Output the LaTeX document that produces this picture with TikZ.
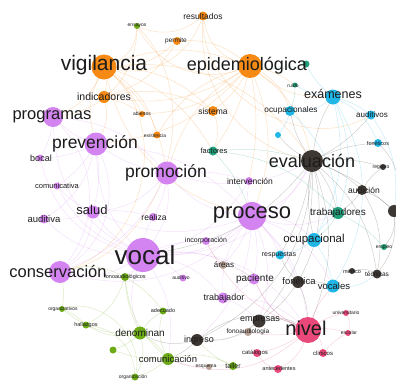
\documentclass[tikz,border=0pt]{standalone}
\usepackage{fontspec}
\setmainfont{Liberation Sans}
\pgfdeclarelayer{bg}\pgfdeclarelayer{fg}\pgfsetlayers{bg,main,fg}
\definecolor{cO}{RGB}{246,138,20}
\definecolor{cP}{RGB}{212,132,240}
\definecolor{cD}{RGB}{62,56,52}
\definecolor{cT}{RGB}{32,160,122}
\definecolor{cC}{RGB}{32,182,230}
\definecolor{cG}{RGB}{108,170,22}
\definecolor{cK}{RGB}{234,72,122}
\definecolor{cB}{RGB}{184,162,150}
\definecolor{txt}{RGB}{28,28,28}
\tikzset{
 dot/.style={circle,inner sep=0pt,draw=none},
 lbl/.style={inner sep=0pt,anchor=center,text=txt},
 ed/.style={line width=0.45pt,draw opacity=0.26}
}
\newcommand\nd[9]{%
 \node[dot,minimum size=#4pt,fill=#5] (#1) at (#2,#3) {};%
 \begin{pgfonlayer}{fg}\node[lbl] (#1-t) at (#8,#9) {\fontsize{#7}{#7}\selectfont #6};\end{pgfonlayer}}
\newcommand\dotonly[5]{\node[dot,minimum size=#4pt,fill=#5] (#1) at (#2,#3) {};}
\begin{document}
\begin{tikzpicture}[x=1pt,y=-1pt]
\useasboundingbox (0,0) rectangle (396,381);
\begin{pgfonlayer}{bg}\fill[white] (0,0) rectangle (396,381);\end{pgfonlayer}
% orange
\nd{vig}{104}{67}{25}{cO}{vigilancia}{21}{104}{65}
\nd{epi}{250}{66}{24}{cO}{epidemiológica}{18}{247}{66}
\nd{res}{203}{16}{9}{cO}{resultados}{8.5}{203}{16}
\nd{per}{177}{41}{8}{cO}{permite}{6.5}{176}{41}
\nd{ind}{104}{97}{12}{cO}{indicadores}{10.5}{104}{97}
\nd{sis}{213}{111}{10}{cO}{sistema}{8.5}{213}{111}
\nd{abi}{142}{114}{6}{cO}{abiertos}{5}{142}{114}
\nd{exi}{157}{135}{7}{cO}{existencia}{5}{155}{136}
\nd{ens}{137}{26}{6}{cG}{ensayos}{5}{137}{26}
% teal
\nd{fac}{213}{151}{9}{cT}{factores}{7.5}{214}{151}
\dotonly{tealA}{306}{64}{7}{cT}
\nd{rui}{295}{85}{5}{cT}{ruido}{5}{293}{86}
\nd{trab}{338}{213}{12}{cT}{trabajadores}{10}{338}{213}
\nd{emp}{384}{247}{6}{cT}{empleo}{5}{384}{247}
% cyan
\nd{exa}{333}{97}{15}{cC}{exámenes}{12.5}{333}{94}
\nd{ocps}{290}{111}{10}{cC}{ocupacionales}{8.3}{291}{110}
\nd{audv}{371}{115}{9}{cC}{auditivos}{8}{372}{115}
\dotonly{cyanA}{278}{135}{6}{cC}
\nd{fonc}{378}{143}{8}{cC}{fonéticos}{5.5}{378}{143}
\nd{ocp}{314}{240}{14}{cC}{ocupacional}{11.5}{314}{240}
\nd{resp}{280}{255}{9}{cC}{respuestas}{7}{279}{255}
\nd{vocs}{333}{286}{13}{cC}{vocales}{9.5}{334}{286}
% dark
\nd{eva}{312}{161}{22}{cD}{evaluación}{18}{312}{161}
\nd{audi}{362}{190}{10}{cD}{audición}{8.5}{364}{190}
\nd{reg}{383}{167}{6}{cD}{registro}{5}{381}{167}
\dotonly{darkR}{394}{211}{12}{cD}
\nd{fone}{298}{282}{12}{cD}{fonética}{9.5}{299}{281}
\nd{empr}{259}{321}{13}{cD}{empresas}{9}{260}{320}
\nd{ing}{197}{340}{12}{cD}{ingreso}{9}{199}{340}
\nd{med}{352}{271}{6}{cD}{médico}{5.5}{352}{271}
\nd{tec}{377}{274}{9}{cD}{técnicas}{6.5}{377}{274}
% taupe
\nd{areas}{223}{265}{8}{cB}{áreas}{8}{224}{265}
\nd{fonog}{248}{332}{8}{cB}{fonoaudiología}{6.5}{248}{332}
\nd{esq}{209}{367}{6}{cB}{esquema}{5}{206}{367}
% pink
\nd{niv}{308}{330}{26}{cK}{nivel}{20}{306}{328}
\nd{uni}{346}{313}{6}{cK}{universitario}{5}{346}{313}
\nd{esc}{348}{333}{6}{cK}{escolar}{5}{349}{333}
\nd{cli}{323}{353}{8}{cK}{clínicos}{6}{323}{353}
\nd{cat}{257}{353}{8}{cK}{catálogos}{6}{255}{353}
\nd{ant}{278}{369}{8}{cK}{antecedentes}{5.5}{279}{369}
% purple
\nd{prog}{53}{117}{20}{cP}{programas}{16.5}{52}{117}
\nd{prev}{96}{144}{23}{cP}{prevención}{17.5}{95}{144}
\nd{prom}{167}{173}{23}{cP}{promoción}{17.5}{166}{173}
\nd{boc}{40}{158}{7}{cP}{bocal}{9}{41}{158}
\nd{comv}{57}{186}{7}{cP}{comunicativa}{7.5}{57}{186}
\nd{audt}{44}{219}{9}{cP}{auditiva}{9.5}{44}{219}
\nd{sal}{93}{212}{13}{cP}{salud}{13}{92}{210}
\nd{real}{153}{217}{8}{cP}{realiza}{8.5}{154}{217}
\nd{inte}{249}{181}{8}{cP}{intervención}{8.5}{250}{181}
\nd{proc}{252}{216}{28}{cP}{proceso}{22}{252}{215}
\nd{vocal}{143}{255}{34}{cP}{vocal}{26}{145}{255}
\nd{inc}{206}{241}{8}{cP}{incorporación}{7}{206}{241}
\nd{cons}{60}{272}{22}{cP}{conservación}{16.5}{58}{271}
\nd{audo}{183}{278}{7}{cP}{auditivo}{5}{181}{278}
\nd{pac}{254}{279}{11}{cP}{paciente}{10}{255}{279}
\nd{trbj}{223}{298}{11}{cP}{trabajador}{9}{224}{298}
% green
\nd{fonl}{125}{277}{8}{cG}{fonoaudiológicos}{5.5}{125}{277}
\nd{org}{62}{309}{6}{cG}{organizativos}{5}{63}{309}
\nd{hal}{86}{325}{7}{cG}{hallazgos}{5.5}{86}{325}
\nd{ade}{163}{311}{7}{cG}{adecuado}{5.5}{163}{311}
\nd{den}{140}{333}{13}{cG}{denominan}{10}{140}{333}
\dotonly{grA}{113}{350}{7}{cG}
\nd{com}{168}{359}{12}{cG}{comunicación}{9.5}{168}{359}
\nd{orgz}{135}{377}{7}{cG}{organización}{5}{133}{377}
\nd{tal}{233}{366}{8}{cG}{taller}{7}{233}{366}
\begin{pgfonlayer}{bg}
\foreach \a/\b/\c/\k in {
 vig/epi/cO/10, vig/res/cO/-20, vig/per/cO/-10, vig/ind/cO/5, vig/sis/cO/10, vig/abi/cO/5, vig/exi/cO/10, vig/prog/cO/10, vig/prev/cO/-10, vig/eva/cO/15, vig/proc/cO/-15, vig/ens/cO/-15, vig/fac/cO/10, vig/prom/cO/10, vig/cons/cO/30,
 epi/res/cO/15, epi/per/cO/-10, epi/sis/cO/5, epi/ind/cO/10, epi/eva/cO/10, epi/exa/cO/-10, epi/ocps/cO/10, epi/fac/cO/5, epi/prom/cO/-10, epi/prev/cO/10, epi/proc/cO/10, epi/ens/cO/20, epi/abi/cO/10, epi/exi/cO/-10, epi/inte/cO/5, epi/rui/cO/5,
 res/eva/cO/-20, res/audv/cO/-30, res/ens/cO/15, per/ind/cO/10, sis/ind/cO/-10, sis/fac/cO/10, ind/prev/cO/10, ind/abi/cO/5, ens/prog/cO/20, ens/cons/cO/30,
 vocal/cons/cP/10, vocal/prom/cP/-10, vocal/prev/cP/10, vocal/prog/cP/15, vocal/sal/cP/5, vocal/proc/cP/-10, vocal/real/cP/5, vocal/inc/cP/5, vocal/pac/cP/10, vocal/trbj/cP/10, vocal/niv/cP/15, vocal/den/cP/-10, vocal/audt/cP/10, vocal/comv/cP/10, vocal/boc/cP/15, vocal/inte/cP/-10, vocal/eva/cP/-15, vocal/audo/cP/5, vocal/fonl/cP/5, vocal/com/cP/10,
 proc/prom/cP/10, proc/inte/cP/5, proc/eva/cP/-10, proc/ocp/cP/10, proc/pac/cP/5, proc/trbj/cP/-10, proc/niv/cP/10, proc/empr/cP/10, proc/inc/cP/5, proc/sal/cP/10, proc/areas/cP/5, proc/resp/cP/5, proc/trab/cP/-10, proc/prev/cP/-10, proc/cons/cP/15, proc/vocs/cP/10, proc/fone/cP/5, proc/ing/cP/10,
 prom/prev/cP/5, prom/sal/cP/10, prom/real/cP/5, prom/prog/cP/-10, prom/cons/cP/10, prom/inte/cP/5, prom/eva/cP/-10,
 prev/prog/cP/5, prev/sal/cP/5, prev/cons/cP/20, prev/boc/cP/5, prev/comv/cP/5, prev/audt/cP/10,
 prog/cons/cP/20, prog/boc/cP/5, sal/audt/cP/5, sal/comv/cP/5, sal/cons/cP/10, sal/real/cP/5, pac/trbj/cP/5, pac/niv/cP/-10, trbj/niv/cP/10, trbj/empr/cP/5,
 eva/exa/cD/5, eva/audi/cD/5, eva/fone/cD/10, eva/trab/cD/5, eva/ocp/cD/-5, eva/reg/cD/5, eva/tec/cD/10, eva/ing/cD/15, eva/empr/cD/10, eva/audv/cD/-5, eva/fonc/cD/5, eva/ocps/cD/5, eva/niv/cD/10, eva/resp/cD/5, eva/darkR/cD/5, eva/vocal/cD/10, eva/cyanA/cD/5,
 audi/darkR/cD/5, audi/reg/cD/5, audi/tec/cD/10, audi/trab/cD/5, fone/vocs/cD/5, fone/niv/cD/5, fone/empr/cD/5, fone/resp/cD/5, ing/empr/cD/-10, ing/den/cD/10, ing/com/cD/5, ing/niv/cD/15, empr/niv/cD/10, med/tec/cD/10, darkR/tec/cD/10, darkR/emp/cD/10, darkR/fonc/cD/-15,
 exa/ocps/cC/10, exa/audv/cC/5, exa/trab/cC/10, exa/rui/cC/5, exa/tealA/cC/5, exa/fonc/cC/10, exa/ocp/cC/10, exa/vocs/cC/15, ocp/resp/cC/5, ocp/vocs/cC/5, ocp/trab/cC/5, ocps/trab/cC/10, audv/darkR/cC/10, vocs/tec/cC/-10, ocps/cyanA/cC/5,
 fac/eva/cT/5, fac/trab/cT/10, fac/proc/cT/5, trab/emp/cT/5, trab/ocp/cT/5, tealA/epi/cT/5, rui/ocps/cT/5,
 den/com/cG/5, den/fonl/cG/5, den/hal/cG/10, den/org/cG/10, den/ade/cG/5, den/grA/cG/5, den/orgz/cG/10, com/orgz/cG/5, com/tal/cG/10, com/grA/cG/5, com/ade/cG/10, com/fonl/cG/10, cons/org/cG/5, cons/fonl/cG/10, org/hal/cG/5, fonl/hal/cG/10, hal/orgz/cG/20, org/orgz/cG/30, fonl/ade/cG/5, tal/ing/cG/5,
 niv/uni/cK/5, niv/esc/cK/5, niv/cli/cK/10, niv/cat/cK/5, niv/ant/cK/10, niv/fonog/cK/5, niv/vocs/cK/5, niv/pac/cK/10, niv/inc/cK/10, uni/esc/cK/10, cli/esc/cK/5, ant/cat/cK/10, niv/com/cK/15,
 fonog/empr/cB/5, fonog/ing/cB/5, areas/pac/cB/5, areas/inc/cB/5, esq/com/cB/5, esq/tal/cB/5}
 {\pgfmathtruncatemacro\kk{2*\k}\draw[ed,draw=\c] (\a) to[bend left=\kk] (\b);}
\end{pgfonlayer}
\end{tikzpicture}
\end{document}
